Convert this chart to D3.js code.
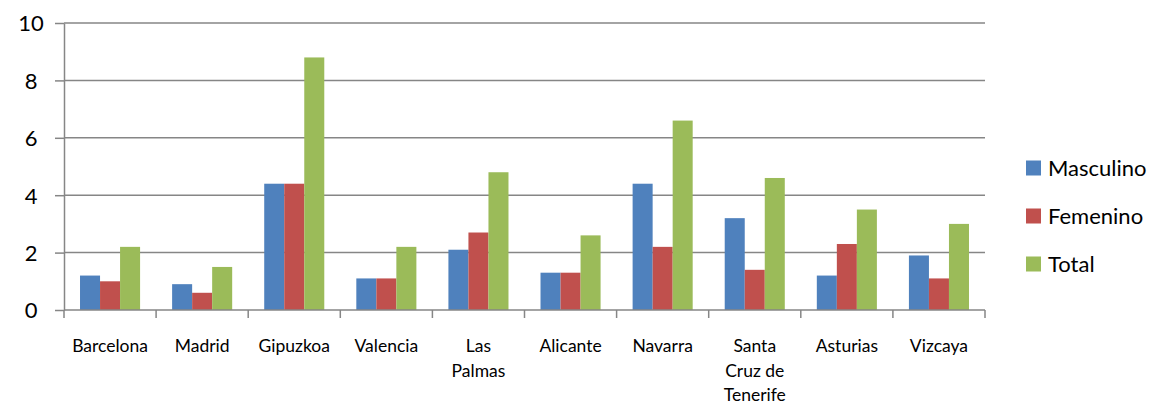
<!DOCTYPE html>
<html><head><meta charset="utf-8">
<script src="https://cdn.jsdelivr.net/npm/d3@7"></script>
<style>body{margin:0;background:#fff}svg{display:block}text{font-family:Lato,"Open Sans",sans-serif;fill:#000}</style>
</head><body><svg id="c" width="1165" height="405"></svg>
<script>
const categories = ["Barcelona","Madrid","Gipuzkoa","Valencia","Las Palmas","Alicante","Navarra","Santa Cruz de Tenerife","Asturias","Vizcaya"];
const tickLabelLines = [["Barcelona"],["Madrid"],["Gipuzkoa"],["Valencia"],["Las","Palmas"],["Alicante"],["Navarra"],["Santa","Cruz de","Tenerife"],["Asturias"],["Vizcaya"]];
const seriesNames = ["Masculino","Femenino","Total"];
const masculino = [1.2,0.9,4.4,1.1,2.1,1.3,4.4,3.2,1.2,1.9];
const femenino  = [1.0,0.6,4.4,1.1,2.7,1.3,2.2,1.4,2.3,1.1];
const total     = [2.2,1.5,8.8,2.2,4.8,2.6,6.6,4.6,3.5,3.0];
const yTicks = [0,2,4,6,8,10];
const colors = ["#4F81BD","#C0504D","#9BBB59"];
const seriesValues = [masculino, femenino, total];

const svg = d3.select("#c");
const L = 64, R = 985, T = 23, B = 310;
const x = d3.scaleBand().domain(categories).range([L, R]).paddingInner(0).paddingOuter(0);
const x1 = d3.scaleBand().domain(seriesNames).range([0, x.bandwidth()]).paddingInner(0).paddingOuter(0.8);
const y = d3.scaleLinear().domain([0,10]).range([B, T]);
const gridC = "#868686";

// gridlines
svg.append("g").selectAll("line").data(yTicks.filter(d=>d>0)).join("line")
  .attr("x1", L).attr("x2", R).attr("y1", d=>y(d)).attr("y2", d=>y(d))
  .attr("stroke", gridC).attr("stroke-width", 1.5);

// bars
const groups = svg.append("g").selectAll("g").data(categories).join("g")
  .attr("transform", d=>`translate(${x(d)},0)`);
groups.selectAll("rect").data((c,i)=>seriesNames.map((s,j)=>({s, v: seriesValues[j][i], j}))).join("rect")
  .attr("x", d=>x1(d.s)).attr("width", x1.bandwidth())
  .attr("y", d=>y(d.v)).attr("height", d=>B - y(d.v))
  .attr("fill", d=>colors[d.j]);

// y axis
const yAxis = svg.append("g").attr("transform", `translate(${L},0)`)
  .call(d3.axisLeft(y).tickValues(yTicks).tickSize(9).tickPadding(10).tickSizeOuter(0));
yAxis.select(".domain").attr("stroke", gridC).attr("stroke-width", 1.5);
yAxis.selectAll(".tick line").attr("stroke", gridC).attr("stroke-width", 1.5);
yAxis.selectAll(".tick text").style("font-size","22px").attr("dy","0.36em")
  .attr("text-anchor","middle").attr("x", -33);

// x axis
const xAxis = svg.append("g").attr("transform", `translate(0,${B})`)
  .call(d3.axisBottom(x).tickValues([]).tickSizeOuter(0));
xAxis.select(".domain").attr("stroke", gridC).attr("stroke-width", 1.5).attr("d", `M${L},0H${R}`);
const tickPos = d3.range(categories.length + 1).map(i => L + i * x.step());
xAxis.selectAll("line.t").data(tickPos).join("line").attr("class","t")
  .attr("x1", d=>d).attr("x2", d=>d).attr("y1", 0).attr("y2", 8)
  .attr("stroke", gridC).attr("stroke-width", 1.5);
const xl = xAxis.selectAll("text.xl").data(categories).join("text").attr("class","xl")
  .attr("text-anchor","middle").style("font-size","17.5px");
xl.each(function(c,i){
  const t = d3.select(this);
  tickLabelLines[i].forEach((ln,k)=>{
    t.append("tspan").attr("x", x(c)+x.bandwidth()/2).attr("y", 42 + k*24.5).text(ln);
  });
});

// legend
const lg = svg.append("g").selectAll("g").data(seriesNames).join("g")
  .attr("transform",(d,i)=>`translate(1026,${168 + i*48})`);
lg.append("rect").attr("x",0).attr("y",-7.5).attr("width",15).attr("height",15).attr("fill",(d,i)=>colors[i]);
lg.append("text").attr("x",22).attr("y",0).attr("dy","0.36em").style("font-size","22px").text(d=>d);
</script></body></html>
